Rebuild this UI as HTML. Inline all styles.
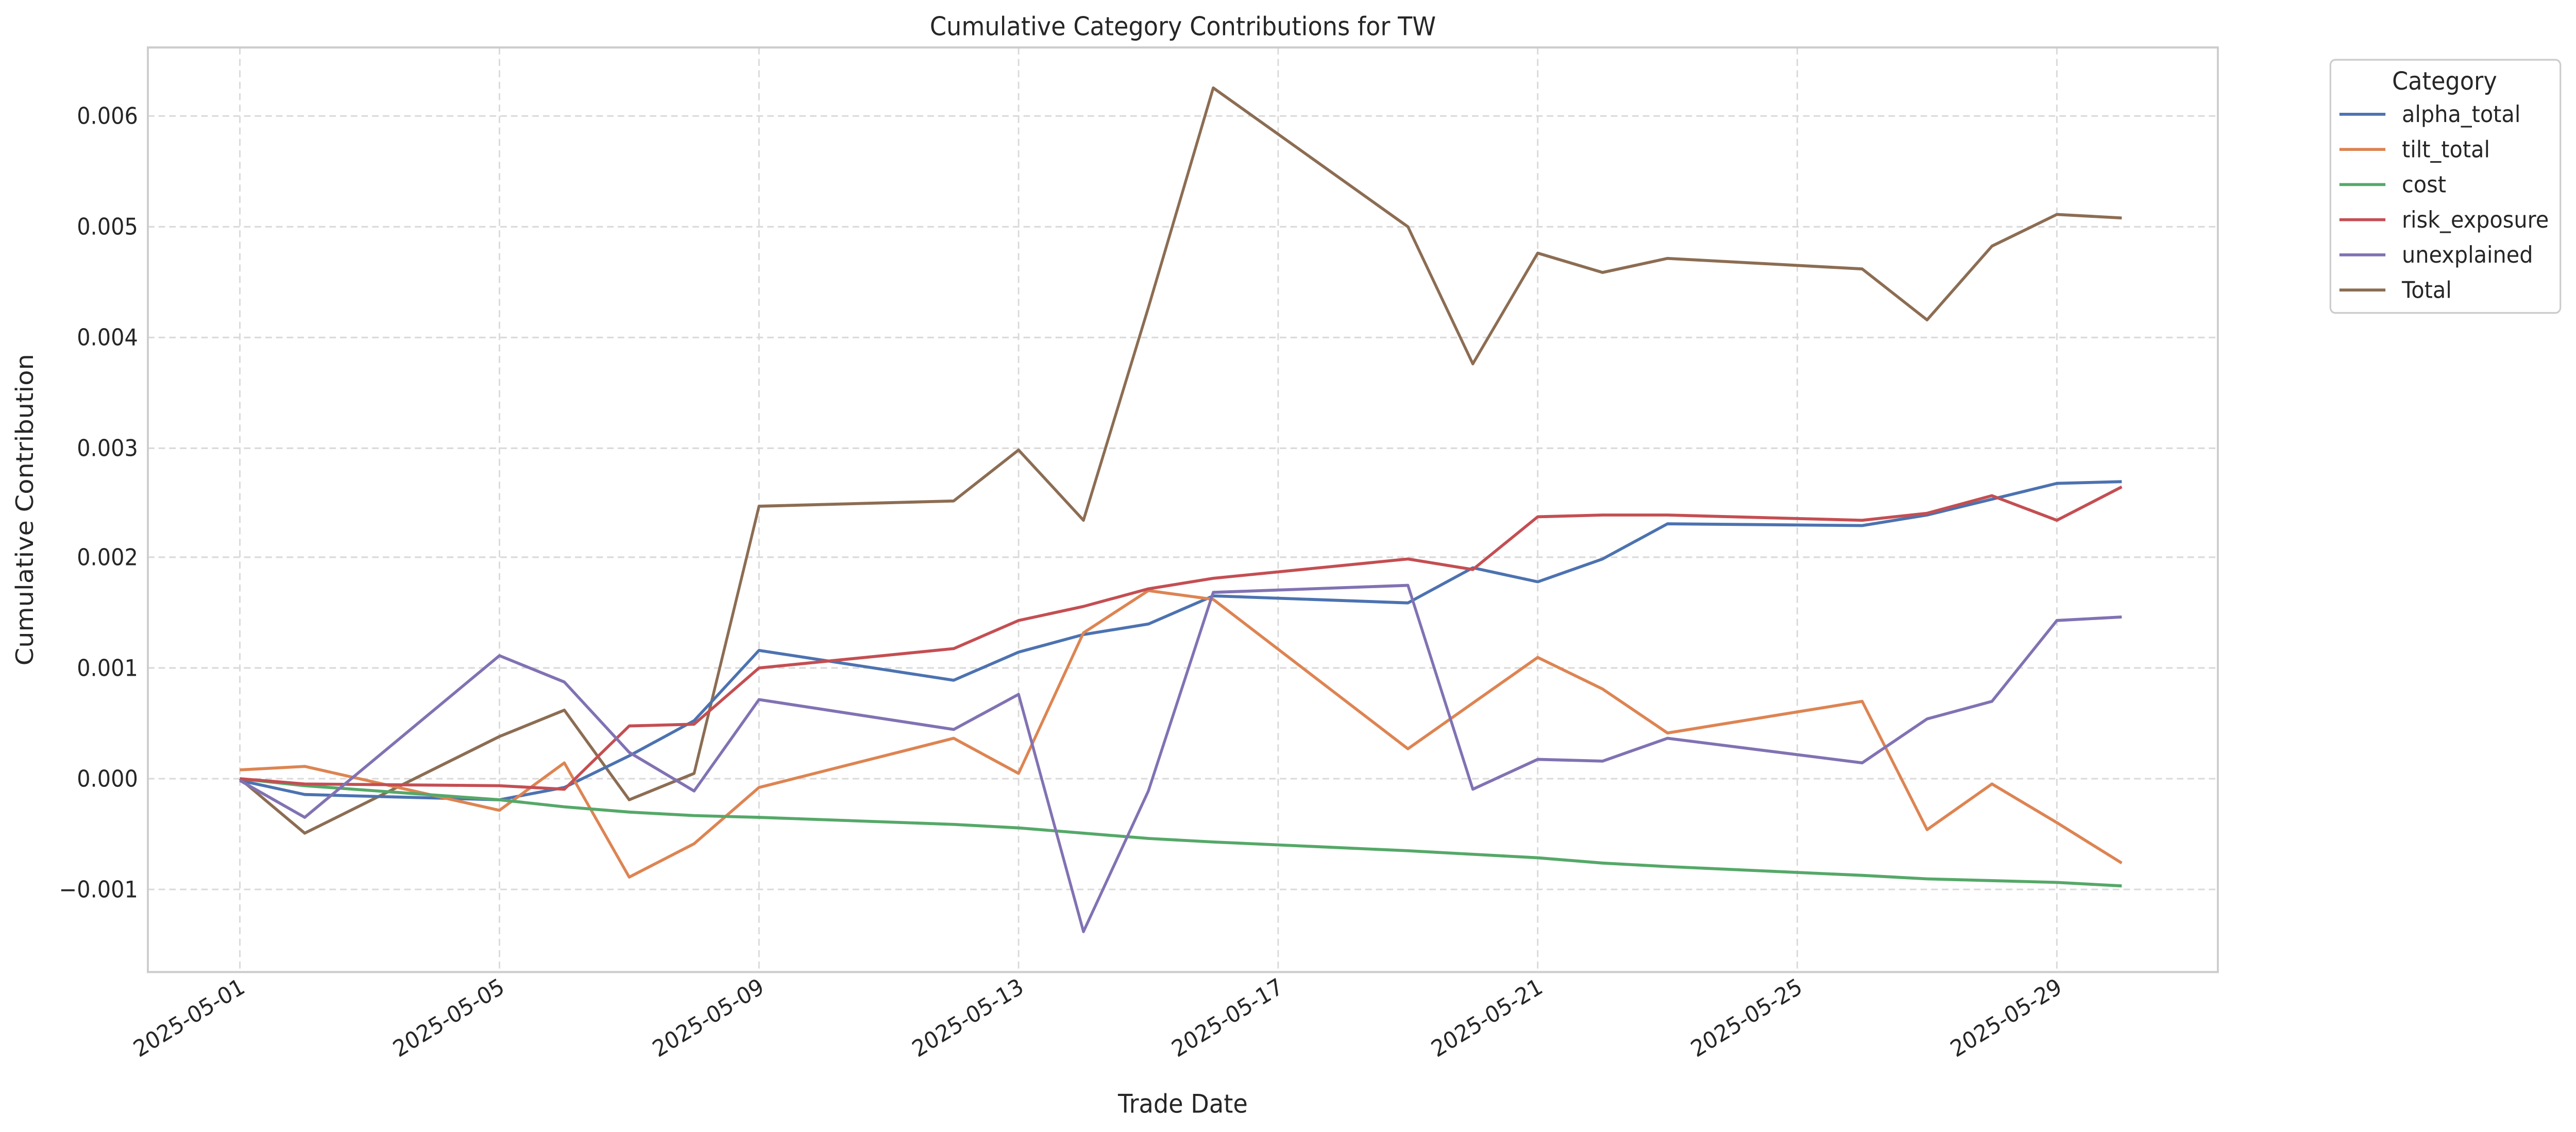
<!DOCTYPE html>
<html><head><meta charset="utf-8"><style>html,body{margin:0;padding:0;background:#fff;overflow:hidden;width:100%;height:100%}svg{display:block;width:100vw;height:100vh}</style></head>
<body>
<svg viewBox="0 0 1568 644" preserveAspectRatio="none" xmlns="http://www.w3.org/2000/svg" font-family="DejaVu Sans, Liberation Sans, sans-serif">
<rect width="1568" height="644" fill="#fff"/>
<g stroke="#d9d9d9" stroke-width="0.9" stroke-dasharray="4,2.5">
<line x1="90" x2="1350" y1="66" y2="66"/><line x1="90" x2="1350" y1="129" y2="129"/><line x1="90" x2="1350" y1="192" y2="192"/><line x1="90" x2="1350" y1="255" y2="255"/><line x1="90" x2="1350" y1="317" y2="317"/><line x1="90" x2="1350" y1="380" y2="380"/><line x1="90" x2="1350" y1="443" y2="443"/><line x1="90" x2="1350" y1="506" y2="506"/>
<line y1="27" y2="553" x1="146" x2="146"/><line y1="27" y2="553" x1="304" x2="304"/><line y1="27" y2="553" x1="462" x2="462"/><line y1="27" y2="553" x1="620" x2="620"/><line y1="27" y2="553" x1="778" x2="778"/><line y1="27" y2="553" x1="936" x2="936"/><line y1="27" y2="553" x1="1094" x2="1094"/><line y1="27" y2="553" x1="1252" x2="1252"/>
</g>
<rect x="90" y="27" width="1260" height="526" fill="none" stroke="#cccccc" stroke-width="1.2"/>
<g font-size="13" fill="#262626" text-anchor="end">
<text x="84" y="70.5">0.006</text><text x="84" y="133.5">0.005</text><text x="84" y="196.5">0.004</text><text x="84" y="259.5">0.003</text><text x="84" y="321.5">0.002</text><text x="84" y="384.5">0.001</text><text x="84" y="447.5">0.000</text><text x="84" y="510.5">−0.001</text>
</g>
<g font-size="13" fill="#262626" text-anchor="end">
<text transform="translate(150,564) rotate(-30)">2025-05-01</text>
<text transform="translate(308,564) rotate(-30)">2025-05-05</text>
<text transform="translate(466,564) rotate(-30)">2025-05-09</text>
<text transform="translate(624,564) rotate(-30)">2025-05-13</text>
<text transform="translate(782,564) rotate(-30)">2025-05-17</text>
<text transform="translate(940,564) rotate(-30)">2025-05-21</text>
<text transform="translate(1098,564) rotate(-30)">2025-05-25</text>
<text transform="translate(1256,564) rotate(-30)">2025-05-29</text>
</g>
<text x="720" y="633" font-size="14.5" fill="#262626" text-anchor="middle">Trade Date</text>
<text transform="translate(20,290) rotate(-90)" font-size="14.5" fill="#262626" text-anchor="middle">Cumulative Contribution</text>
<text x="720" y="20" font-size="14.5" fill="#262626" text-anchor="middle">Cumulative Category Contributions for TW</text>
<g fill="none" stroke-width="1.7" stroke-linejoin="round">
<polyline stroke="#8c6d53" points="146,443 185.5,474 304,419 343.5,404 383,455 422.5,440 462,288 580.5,285 620,256 659.5,296 699,175 738.5,50 857,129 896.5,207 936,144 975.5,155 1015,147 1133.5,153 1173,182 1212.5,140 1252,122 1291.5,124"/>
<polyline stroke="#4c72b0" points="146,444 185.5,452 304,455 343.5,448 383,430 422.5,410 462,370 580.5,387 620,371 659.5,361 699,355 738.5,339 857,343 896.5,323 936,331 975.5,318 1015,298 1133.5,299 1173,293 1212.5,284 1252,275 1291.5,274"/>
<polyline stroke="#dd8452" points="146,438 185.5,436 304,461 343.5,434 383,499 422.5,480 462,448 580.5,420 620,440 659.5,360 699,336 738.5,341 857,426 896.5,400 936,374 975.5,392 1015,417 1133.5,399 1173,472 1212.5,446 1252,468 1291.5,491"/>
<polyline stroke="#55a868" points="146,443 185.5,447 304,455 343.5,459 383,462 422.5,464 462,465 580.5,469 620,471 659.5,474 699,477 738.5,479 857,484 896.5,486 936,488 975.5,491 1015,493 1133.5,498 1173,500 1212.5,501 1252,502 1291.5,504"/>
<polyline stroke="#c44e52" points="146,443 185.5,446 304,447 343.5,449 383,413 422.5,412 462,380 580.5,369 620,353 659.5,345 699,335 738.5,329 857,318 896.5,324 936,294 975.5,293 1015,293 1133.5,296 1173,292 1212.5,282 1252,296 1291.5,277"/>
<polyline stroke="#8172b3" points="146,444 185.5,465 304,373 343.5,388 383,428 422.5,450 462,398 580.5,415 620,395 659.5,530 699,450 738.5,337 857,333 896.5,449 936,432 975.5,433 1015,420 1133.5,434 1173,409 1212.5,399 1252,353 1291.5,351"/>
</g>
<rect x="1418.5" y="34" width="140" height="144" rx="3" fill="#fff" stroke="#cccccc" stroke-width="1"/>
<text x="1488" y="51" font-size="14" fill="#262626" text-anchor="middle">Category</text>
<g stroke-width="1.7">
<line x1="1424" x2="1452" y1="65" y2="65" stroke="#4c72b0"/>
<line x1="1424" x2="1452" y1="85" y2="85" stroke="#dd8452"/>
<line x1="1424" x2="1452" y1="105" y2="105" stroke="#55a868"/>
<line x1="1424" x2="1452" y1="125" y2="125" stroke="#c44e52"/>
<line x1="1424" x2="1452" y1="145" y2="145" stroke="#8172b3"/>
<line x1="1424" x2="1452" y1="165" y2="165" stroke="#8c6d53"/>
</g>
<g font-size="13" fill="#262626">
<text x="1462" y="69.5">alpha_total</text><text x="1462" y="89.5">tilt_total</text><text x="1462" y="109.5">cost</text><text x="1462" y="129.5">risk_exposure</text><text x="1462" y="149.5">unexplained</text><text x="1462" y="169.5">Total</text>
</g>
</svg>
</body></html>
